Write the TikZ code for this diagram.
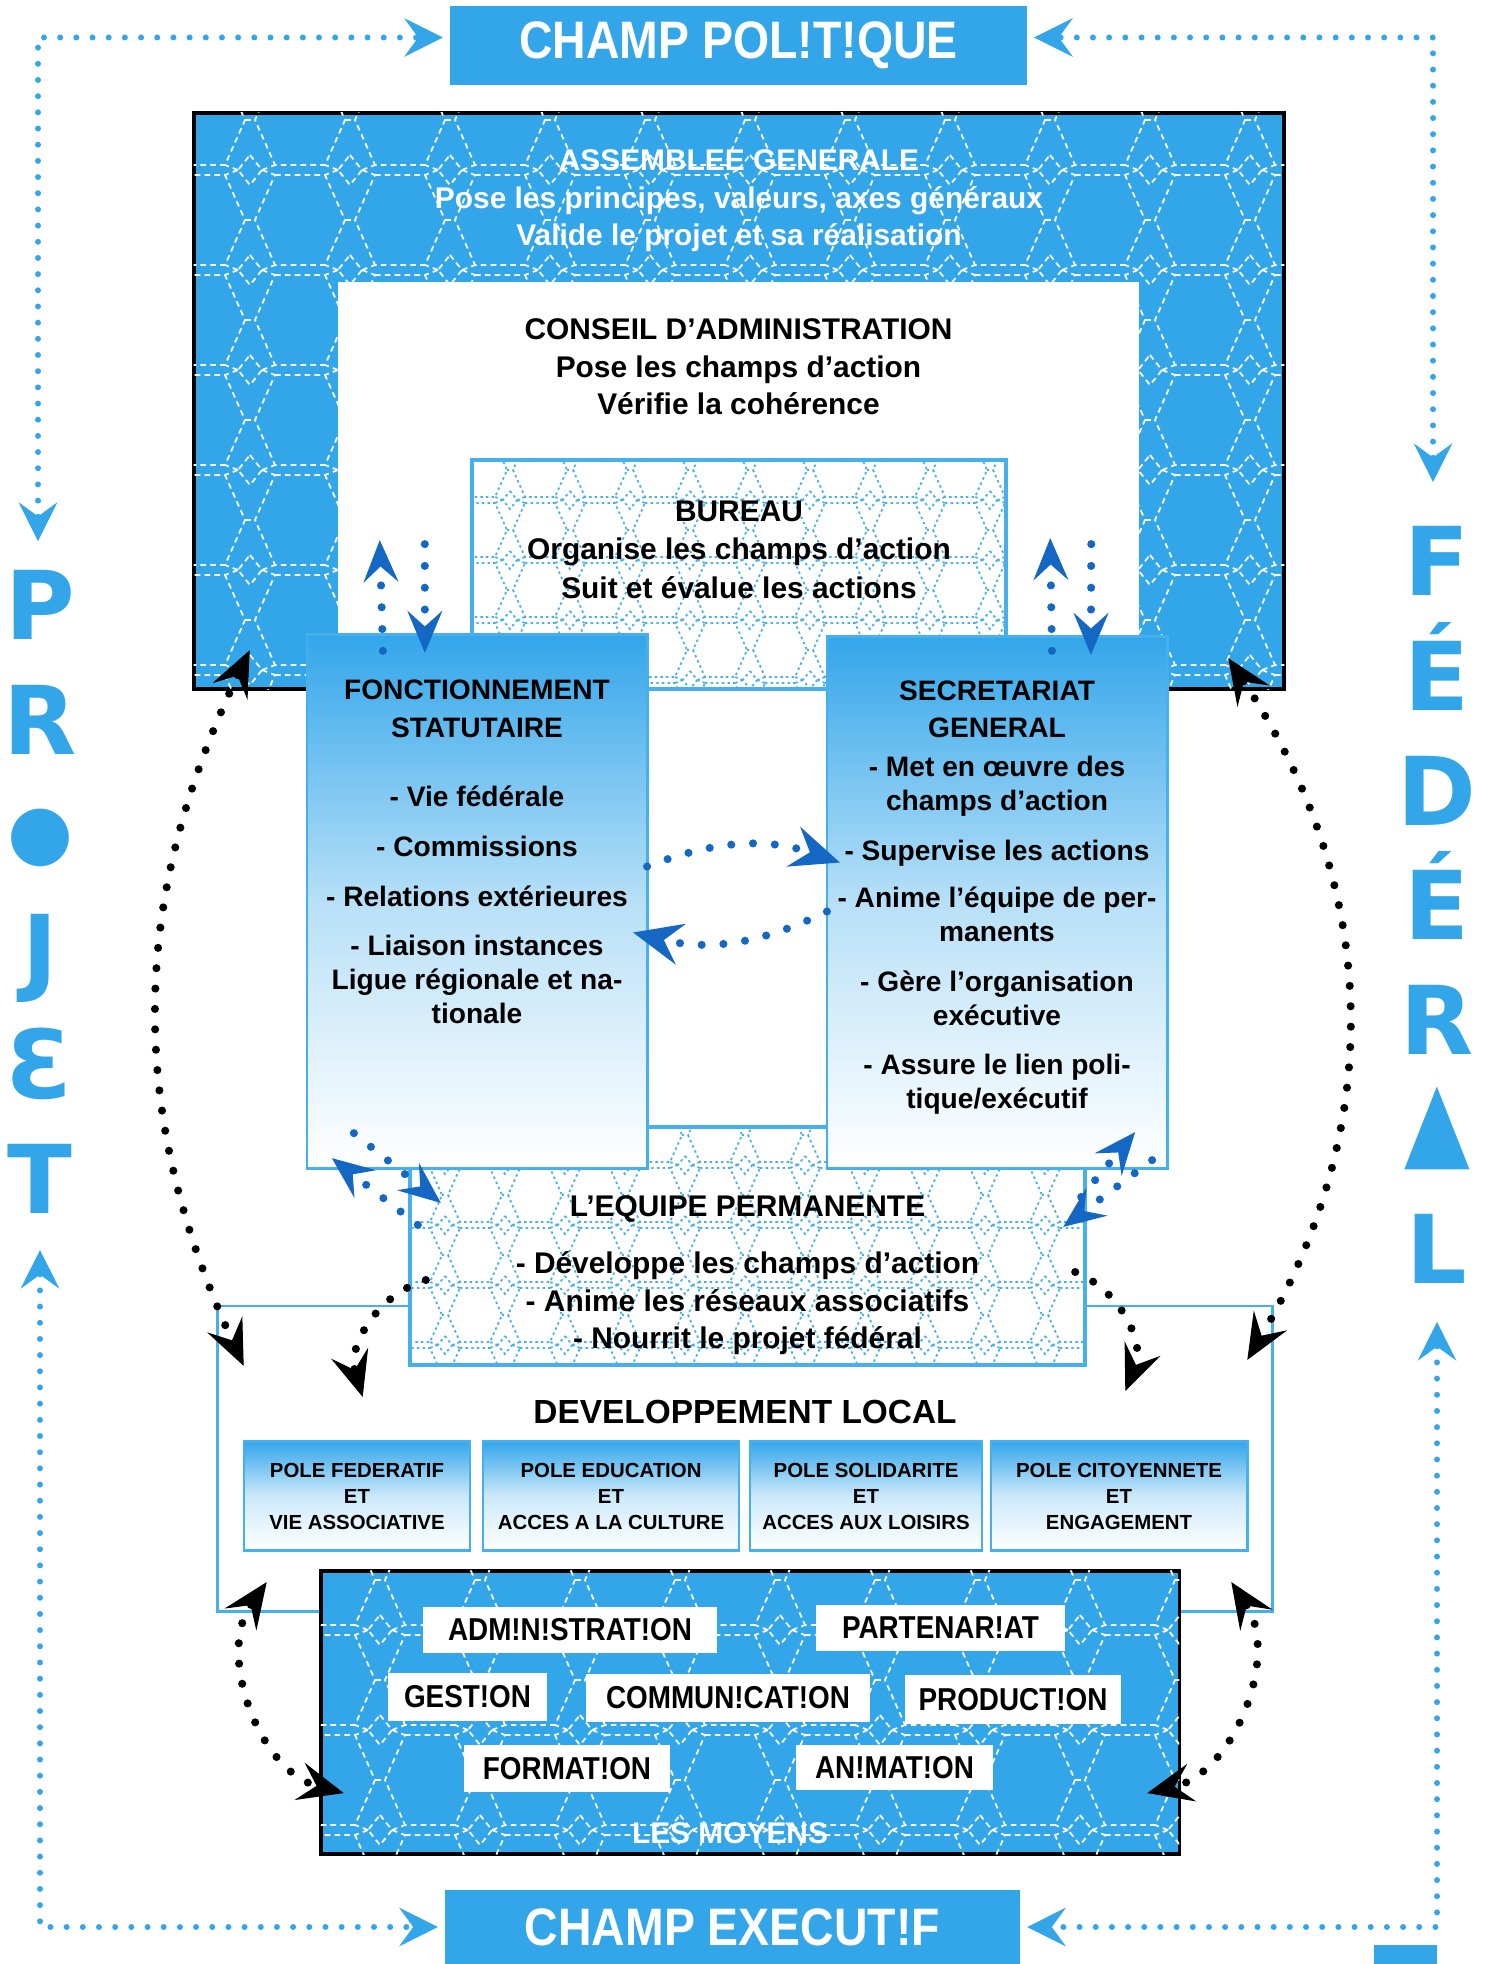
\documentclass[tikz,border=0pt]{standalone}
\usepackage{fontspec}
\usepackage{graphicx}
\setmainfont{Liberation Sans}
\newfontfamily\decofont[FakeStretch=0.88]{Liberation Sans}
\newfontfamily\lettrefont{DejaVu Sans}
\usetikzlibrary{arrows.meta, calc}
\definecolor{bleu}{HTML}{33A6EA}
\definecolor{bleufonce}{HTML}{1567C4}
\definecolor{bleuclair}{HTML}{45B0EC}
\tikzset{
  boite/.style = {rectangle, inner sep=0pt, outer sep=0pt},
  bleubox/.style = {boite, fill=bleu},
  cadreblanc/.style = {boite, fill=white, draw=bleuclair, line width=1pt},
  degrade/.style = {boite, draw=bleuclair, line width=0.8pt, top color=bleu, bottom color=white, middle color=bleu!35},
  pole/.style = {boite, draw=bleuclair, line width=0.8pt, top color=bleu, bottom color=white, middle color=bleu!25, align=center, font=\bfseries\fontsize{5.8}{7.4}\selectfont},
  corps/.style = {font=\bfseries\fontsize{8.5}{10.7}\selectfont, align=center, inner sep=0pt, anchor=north},
  mot/.style = {boite, fill=white, font=\decofont\bfseries\fontsize{9}{10}\selectfont},
  titre/.style = {bleubox, text=white, font=\decofont\bfseries\fontsize{15}{16}\selectfont},
  lettres/.style = {text=bleu, align=center, inner sep=0pt, anchor=north, font=\lettrefont\bfseries\fontsize{27}{32.6}\selectfont},
  tramebleue/.style = {white, line width=0.5pt, dash pattern=on 1.6pt off 1.2pt},
  trameclaire/.style = {bleuclair, line width=0.5pt, dash pattern=on 0.7pt off 0.9pt},
  maille/.pic = {
    \draw (-25,-45) -- (25,-45) -- (45,0) -- (25,45) -- (-25,45) -- (-45,0) -- cycle;
    \draw (45,0) -- (55,0);
    \draw (50,35) -- (62,50) -- (50,65) -- (38,50) -- cycle;
    \draw (38,50) -- (25,45) (38,50) -- (25,55) (62,50) -- (75,45) (62,50) -- (75,55);
  },
  cadre/.style = {bleu, line width=1.7pt, line cap=round, dash pattern=on 0pt off 4.6pt, <->,
    >={Stealth[length=11pt, width=11pt, inset=4pt, line width=0.3pt]}},
  pointsnoirs/.style = {black, line width=2.3pt, line cap=round, dash pattern=on 0pt off 5.8pt,
    >={Stealth[length=13pt, width=11pt, inset=5pt, line width=0.3pt]}},
  pointsbleus/.style = {bleufonce, line width=2.3pt, line cap=round, dash pattern=on 0pt off 6.2pt, ->,
    >={Stealth[length=12pt, width=10pt, inset=4.5pt, line width=0.3pt]}}
}
\begin{document}
\begin{tikzpicture}[x=0.01cm, y=-0.01cm]
\useasboundingbox (0,0) rectangle (1486,1964);

% instances politiques
\node[bleubox, draw=black, line width=1.2pt, minimum width=10.9cm, minimum height=5.76cm] (ag) at (739,401) {};
\begin{scope}
  \clip (ag.north west) rectangle (ag.south east);
  \foreach \i in {0,...,11} \foreach \j in {0,...,6}
    \pic[tramebleue] at (200+\i*100, 120+\j*100) {maille};
\end{scope}
\node[boite, fill=white, minimum width=8.01cm, minimum height=4.07cm] (ca) at (738.5,485.5) {};
\node[cadreblanc, minimum width=5.34cm, minimum height=2.29cm] (bur) at (739,574.5) {};
\begin{scope}
  \clip (bur.north west) rectangle (bur.south east);
  \foreach \i in {0,...,9} \foreach \j in {0,...,4}
    \pic[trameclaire, scale=0.6] at (480+\i*60, 470+\j*60) {maille};
\end{scope}
\node[corps, text=white] (agtxt) at (739,149) {ASSEMBLEE GENERALE\\Pose les principes, valeurs, axes généraux\\Valide le projet et sa réalisation};
\node[corps] (catxt) at (738.5,318) {CONSEIL D’ADMINISTRATION\\Pose les champs d’action\\Vérifie la cohérence};
\node[corps] (burtxt) at (739,500) {BUREAU\\[0.3pt]Organise les champs d’action\\[0.3pt]Suit et évalue les actions};

% developpement local et equipe
\node[cadreblanc, line width=0.8pt, minimum width=10.54cm, minimum height=3.05cm] (dl) at (745,1458.5) {};
\node[font=\bfseries\fontsize{9.5}{11}\selectfont, anchor=base, inner sep=0pt] (dltxt) at (745,1423) {DEVELOPPEMENT LOCAL};
\node[cadreblanc, minimum width=6.75cm, minimum height=2.38cm] (ep) at (747.5,1246) {};
\begin{scope}
  \clip (ep.north west) rectangle (ep.south east);
  \foreach \i in {0,...,11} \foreach \j in {0,...,4}
    \pic[trameclaire, scale=0.6] at (415+\i*60, 1135+\j*60) {maille};
\end{scope}
\node[corps] (eptxt) at (747.5,1195) {L’EQUIPE PERMANENTE\\[5.5pt]- Développe les champs d’action\\- Anime les réseaux associatifs\\- Nourrit le projet fédéral};

\node[degrade, minimum width=3.4cm, minimum height=5.33cm] (fs) at (477,901.5) {};
\node[degrade, minimum width=3.4cm, minimum height=5.31cm] (sg) at (997,902.5) {};
\node[corps, font=\bfseries\fontsize{8}{9.67}\selectfont] (fstxt) at (477,679) {FONCTIONNEMENT\\[1.1pt]STATUTAIRE\\[10pt]- Vie fédérale\\[4.5pt]- Commissions\\[4.5pt]- Relations extérieures\\[4.5pt]- Liaison instances\\Ligue régionale et na-\\tionale};
\node[corps, font=\bfseries\fontsize{8}{9.67}\selectfont] (sgtxt) at (997,680) {SECRETARIAT\\[1pt]GENERAL\\[1.2pt]- Met en œuvre des\\champs d’action\\[4.8pt]- Supervise les actions\\[3.6pt]- Anime l’équipe de per-\\manents\\[4.5pt]- Gère l’organisation\\exécutive\\[4.3pt]- Assure le lien poli-\\tique/exécutif};

\node[pole, minimum width=2.26cm, minimum height=1.09cm] (p1) at (357,1496) {POLE FEDERATIF\\ET\\VIE ASSOCIATIVE};
\node[pole, minimum width=2.56cm, minimum height=1.09cm] (p2) at (611,1496) {POLE EDUCATION\\ET\\ACCES A LA CULTURE};
\node[pole, minimum width=2.32cm, minimum height=1.09cm] (p3) at (866,1496) {POLE SOLIDARITE\\ET\\ACCES AUX LOISIRS};
\node[pole, minimum width=2.56cm, minimum height=1.09cm] (p4) at (1119,1496) {POLE CITOYENNETE\\ET\\ENGAGEMENT};

% les moyens
\node[bleubox, draw=black, line width=1pt, minimum width=8.58cm, minimum height=2.83cm] (moy) at (750,1712.5) {};
\begin{scope}
  \clip (moy.north west) rectangle (moy.south east);
  \foreach \i in {0,...,9} \foreach \j in {0,...,3}
    \pic[tramebleue] at (330+\i*100, 1580+\j*100) {maille};
\end{scope}
\node[mot, minimum width=2.94cm, minimum height=0.46cm] (adm) at (570,1630) {ADM!N!STRAT!ON};
\node[mot, minimum width=2.49cm, minimum height=0.46cm] (par) at (940.5,1628) {PARTENAR!AT};
\node[mot, minimum width=1.59cm, minimum height=0.48cm] (ges) at (467.5,1697) {GEST!ON};
\node[mot, minimum width=2.84cm, minimum height=0.48cm] (com) at (728,1698) {COMMUN!CAT!ON};
\node[mot, minimum width=2.16cm, minimum height=0.49cm] (pro) at (1013,1699.5) {PRODUCT!ON};
\node[mot, minimum width=2.06cm, minimum height=0.47cm] (for) at (567,1768.5) {FORMAT!ON};
\node[mot, minimum width=1.97cm, minimum height=0.45cm] (ani) at (894.5,1767.5) {AN!MAT!ON};
\node[font=\bfseries\fontsize{8.5}{10}\selectfont, text=white, inner sep=0pt] (moytxt) at (730,1833) {LES MOYENS};

% champs et projet
\node[titre, minimum width=5.77cm, minimum height=0.79cm] (pol) at (738.5,45.5) {CHAMP POL!T!QUE};
\node[titre, minimum width=5.75cm, minimum height=0.74cm] (exe) at (732.5,1927) {CHAMP EXECUT!F};
\node[bleubox, minimum width=0.63cm, minimum height=0.4cm] (page) at (1405.5,1965) {};
\node[lettres] (projet) at (40,570) {P\\R\\\raisebox{3.4pt}{\mdseries\fontsize{21.5}{21.5}\selectfont ●}\\J\\Ɛ\\T};
\node[lettres] (federal) at (1437,526) {F\\É\\D\\É\\R\\\raisebox{3.7pt}{\mdseries\scalebox{0.9}[1.14]{▲}}\\L};

\coordinate (hautP) at (38,541);
\coordinate (basP) at (40,1250);
\coordinate (hautF) at (1433,482);
\coordinate (basF) at (1437,1322);
\draw[cadre, shorten >=2pt] (hautP) |- ([yshift=0.08cm]pol.west);
\draw[cadre, shorten >=2pt] (hautF) |- ([yshift=0.08cm]pol.east);
\draw[cadre, shorten >=2pt] (basP) |- (exe.west);
\draw[cadre, shorten >=2pt] (basF) |- (exe.east);

% liens internes
\draw[pointsbleus] ([shift={(76,16)}]fs.north west) -- ([shift={(42,-149)}]ca.south west);
\draw[pointsbleus] ([shift={(87,-145)}]ca.south west) -- ([shift={(118,18)}]fs.north west);
\draw[pointsbleus] ([shift={(225,14)}]sg.north west) -- ([shift={(-89,-151)}]ca.south east);
\draw[pointsbleus] ([shift={(-48,-145)}]ca.south east) -- ([shift={(264,18)}]sg.north west);
\draw[pointsbleus, >={Stealth[length=14pt, width=12pt, inset=5pt, line width=0.3pt]}] ([shift={(0,-35)}]fs.east) to[bend left=20] ([shift={(13,-40)}]sg.west);
\draw[pointsbleus, >={Stealth[length=14pt, width=12pt, inset=5pt, line width=0.3pt]}] ([shift={(0,9)}]sg.west) to[bend left=20] ([shift={(-14,31)}]fs.east);
\draw[pointsbleus] ([shift={(47,-35)}]fs.south west) -- ([shift={(31,76)}]ep.north west);
\draw[pointsbleus] ([shift={(8,98)}]ep.north west) -- ([shift={(25,-10)}]fs.south west);
\draw[pointsbleus] ([shift={(-4,70)}]ep.north east) -- ([shift={(-32,-36)}]sg.south east);
\draw[pointsbleus] ([shift={(-15,-8)}]sg.south east) -- ([shift={(-22,100)}]ep.north east);

\draw[pointsnoirs, <->] ([shift={(56,-39)}]ag.south west) to[bend right=25] ([shift={(26,60)}]dl.north west);
\draw[pointsnoirs, <->] ([shift={(-56,-31)}]ag.south east) to[bend left=32] ([shift={(-25,54)}]dl.north east);
\draw[pointsnoirs, ->] ([shift={(16,34)}]ep.west) to[bend right=45] ([shift={(145,91)}]dl.north west);
\draw[pointsnoirs, ->] ([shift={(-10,26)}]ep.east) to[bend left=45] ([shift={(-147,85)}]dl.north east);
\draw[pointsnoirs, <->] ([shift={(49,-29)}]dl.south west) to[bend right=55] ([shift={(23,-61)}]moy.south west);
\draw[pointsnoirs, <->] ([shift={(-41,-29)}]dl.south east) to[bend left=55] ([shift={(-32,-61)}]moy.south east);
\end{tikzpicture}
\end{document}
